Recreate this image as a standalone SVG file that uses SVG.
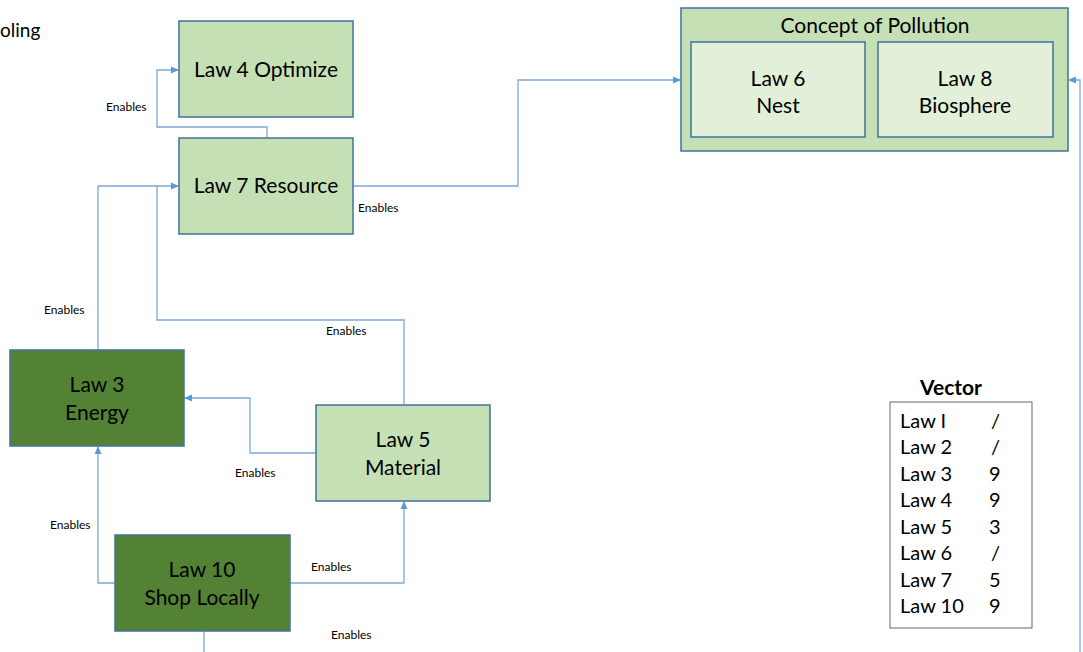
<svg xmlns="http://www.w3.org/2000/svg" width="1083" height="652" viewBox="0 0 1083 652">
  <defs>
    <marker id="arr" markerWidth="8" markerHeight="8" refX="7" refY="4" orient="auto" markerUnits="userSpaceOnUse">
      <path d="M0,0.5 L8,4 L0,7.5 Z" fill="#5B9BD5"/>
    </marker>
    <style>
      text { font-family: Lato, "Open Sans", "Liberation Sans", sans-serif; fill: #000; }
      .light { fill: #C5E0B4; stroke: #41719C; stroke-width: 1.5; }
      .dark { fill: #548235; stroke: #41719C; stroke-width: 1.5; }
      .inner { fill: #E2F0D9; stroke: #41719C; stroke-width: 1.5; }
      .lbl { font-size: 21px; text-anchor: middle; }
      .en { font-size: 12px; }
      .conn { fill: none; stroke: #7FA7D6; stroke-width: 1.3; }
      .tbl { font-size: 20px; }
    </style>
  </defs>
  <rect width="1083" height="652" fill="#fff"/>

  <text x="0" y="37" style="font-size:19px">oling</text>

  <!-- connectors -->
  <g id="connectors">
    <path class="conn" d="M267,138 V127 H157 V70 H178" marker-end="url(#arr)"/>
    <path class="conn" d="M98,350 V186 H178" marker-end="url(#arr)"/>
    <path class="conn" d="M404,405 V320 H157 V186"/>
    <path class="conn" d="M353,186 H518 V80 H680" marker-end="url(#arr)"/>
    <path class="conn" d="M316,453 H250 V398 H185" marker-end="url(#arr)"/>
    <path class="conn" d="M115,583 H98 V447" marker-end="url(#arr)"/>
    <path class="conn" d="M290,583 H404 V502" marker-end="url(#arr)"/>
    <path class="conn" d="M204,631 V652"/>
    <path class="conn" d="M1080,652 V80 H1069" marker-end="url(#arr)"/>
    <text class="en" x="106" y="111">Enables</text>
    <text class="en" x="358" y="212">Enables</text>
    <text class="en" x="44" y="314">Enables</text>
    <text class="en" x="326" y="335">Enables</text>
    <text class="en" x="235" y="477">Enables</text>
    <text class="en" x="50" y="529">Enables</text>
    <text class="en" x="311" y="571">Enables</text>
    <text class="en" x="331" y="639">Enables</text>
  </g>

  <g id="law4">
    <rect class="light" x="179" y="21" width="174" height="96"/>
    <text class="lbl" x="266" y="77">Law 4 Optimize</text>
  </g>
  <g id="law7">
    <rect class="light" x="179" y="138" width="174" height="96"/>
    <text class="lbl" x="266" y="193">Law 7 Resource</text>
  </g>
  <g id="law3">
    <rect class="dark" x="10" y="350" width="174" height="96"/>
    <text class="lbl" x="97" y="392">Law 3</text>
    <text class="lbl" x="97" y="420">Energy</text>
  </g>
  <g id="law5">
    <rect class="light" x="316" y="405" width="174" height="96"/>
    <text class="lbl" x="403" y="447">Law 5</text>
    <text class="lbl" x="403" y="475">Material</text>
  </g>
  <g id="law10">
    <rect class="dark" x="115" y="535" width="175" height="96"/>
    <text class="lbl" x="202" y="577">Law 10</text>
    <text class="lbl" x="202" y="605">Shop Locally</text>
  </g>

  <g id="pollution">
    <rect class="light" x="681" y="8" width="387" height="143"/>
    <text class="lbl" x="875" y="33">Concept of Pollution</text>
    <g id="law6">
      <rect class="inner" x="691" y="42" width="174" height="95"/>
      <text class="lbl" x="778" y="86">Law 6</text>
      <text class="lbl" x="778" y="113">Nest</text>
    </g>
    <g id="law8">
      <rect class="inner" x="878" y="42" width="175" height="95"/>
      <text class="lbl" x="965" y="86">Law 8</text>
      <text class="lbl" x="965" y="113">Biosphere</text>
    </g>
  </g>

  <g id="vector">
    <text x="951" y="395" style="font-size:21px;font-weight:bold;text-anchor:middle">Vector</text>
    <rect x="890" y="402" width="142" height="226" fill="#fff" stroke="#666" stroke-width="1"/>
    <g>
      <text class="tbl" x="900" y="428">Law I</text><text class="tbl" x="991" y="428">/</text>
      <text class="tbl" x="900" y="454">Law 2</text><text class="tbl" x="991" y="454">/</text>
      <text class="tbl" x="900" y="481">Law 3</text><text class="tbl" x="989" y="481">9</text>
      <text class="tbl" x="900" y="507">Law 4</text><text class="tbl" x="989" y="507">9</text>
      <text class="tbl" x="900" y="534">Law 5</text><text class="tbl" x="989" y="534">3</text>
      <text class="tbl" x="900" y="560">Law 6</text><text class="tbl" x="991" y="560">/</text>
      <text class="tbl" x="900" y="587">Law 7</text><text class="tbl" x="989" y="587">5</text>
      <text class="tbl" x="900" y="613">Law 10</text><text class="tbl" x="989" y="613">9</text>
    </g>
  </g>
</svg>
